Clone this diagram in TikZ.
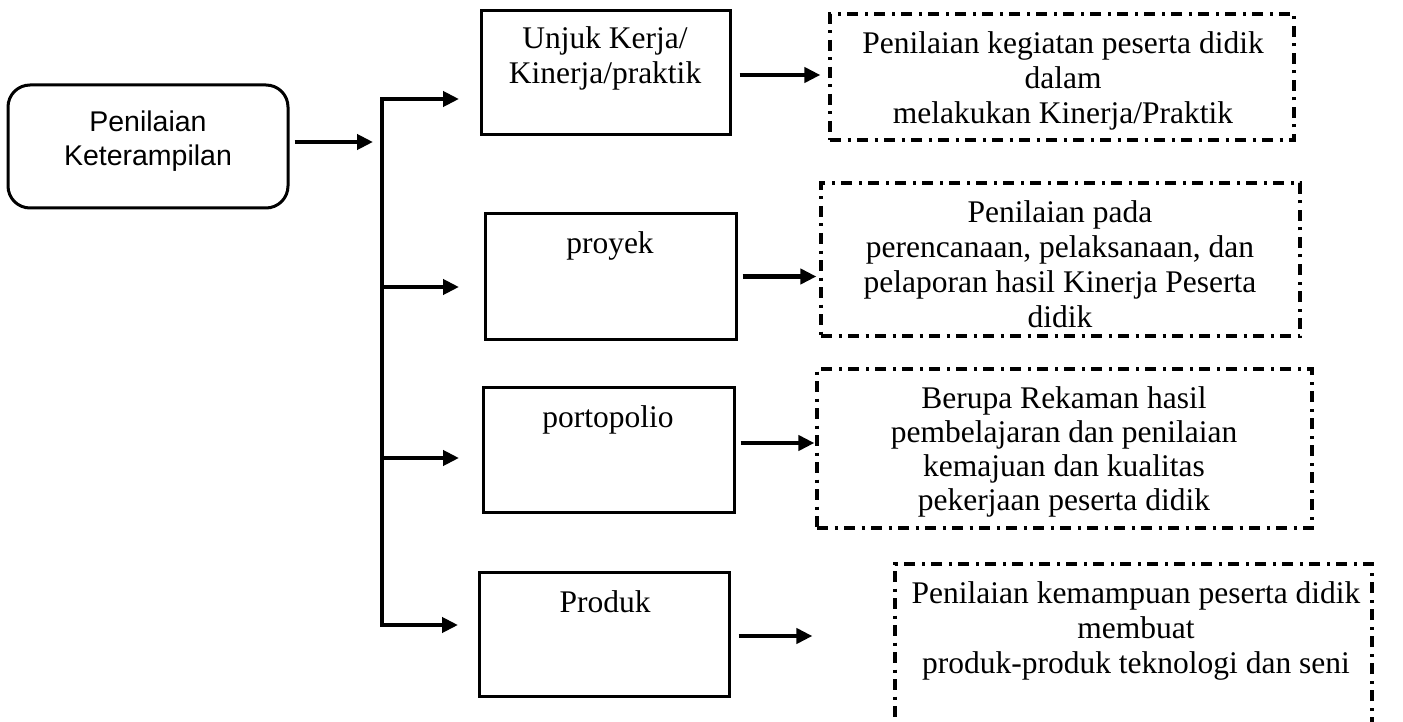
\documentclass[tikz,border=0pt]{standalone}
\usepackage{fontspec}
\usetikzlibrary{arrows.meta,calc}
\newfontfamily\serifx{Liberation Serif}
\newfontfamily\sansx{Liberation Sans}
\begin{document}
\begin{tikzpicture}[x=1pt,y=-1pt,
  boxshape/.style={draw=black,line width=3pt,rectangle,inner sep=0pt},
  roundbox/.style={draw=black,line width=3pt,rectangle,rounded corners=22pt,inner sep=0pt},
  dashbox/.style={draw=black,line width=3.2pt,rectangle,inner sep=0pt,
     dash pattern=on 11pt off 6.5pt on 3pt off 6.5pt},
  sertxt/.style={font=\serifx\fontsize{31.5}{35}\selectfont,align=center,inner sep=0pt},
  santxt/.style={font=\sansx\fontsize{28.5}{34}\selectfont,align=center,inner sep=0pt},
  conn/.style={line width=4.3pt},
  arr/.style={line width=4.3pt,-{Triangle[length=16pt,width=15pt]}},
  ]
\useasboundingbox (0,0) rectangle (1403,722);

% left rounded box
\node[roundbox,minimum width=280pt,minimum height=123pt] (lb) at (148,146.5) {};
\node[santxt] (lbt) at (148,141) {Penilaian\\Keterampilan};

% middle boxes
\node[boxshape,minimum width=249pt,minimum height=124pt] (b1) at (605.5,73) {};
\node[sertxt] (b1t) at (605,58.5) {Unjuk Kerja/\\Kinerja/praktik};
\node[boxshape,minimum width=251pt,minimum height=125pt] (b2) at (610.5,276.5) {};
\node[sertxt,anchor=base] (b2t) at (610,254) {proyek};
\node[boxshape,minimum width=251pt,minimum height=125pt] (b3) at (608.5,449.5) {};
\node[sertxt,anchor=base] (b3t) at (608,427) {portopolio};
\node[boxshape,minimum width=250pt,minimum height=124pt] (b4) at (604,634) {};
\node[sertxt,anchor=base] (b4t) at (605,612) {Produk};

% dashed boxes
\node[dashbox,minimum width=464pt,minimum height=126pt] (d1) at (1062,77) {};
\node[sertxt] (d1t) at (1063,81) {Penilaian kegiatan peserta didik\\dalam\\melakukan Kinerja/Praktik};
\node[dashbox,minimum width=479pt,minimum height=153pt] (d2) at (1060.5,259.5) {};
\node[sertxt] (d2t) at (1060,264) {Penilaian pada\\perencanaan, pelaksanaan, dan\\pelaporan hasil Kinerja Peserta\\didik};
\node[dashbox,minimum width=495pt,minimum height=159pt] (d3) at (1064.5,448.5) {};
\node[sertxt,font=\serifx\fontsize{31.5}{34}\selectfont] (d3t) at (1064,452) {Berupa Rekaman hasil\\pembelajaran dan penilaian\\kemajuan dan kualitas\\pekerjaan peserta didik};
\node[dashbox,minimum width=477pt,minimum height=200pt] (d4) at (1133.5,664) {};
\node[sertxt] (d4t) at (1136,631) {Penilaian kemampuan peserta didik\\membuat\\produk-produk teknologi dan seni};

% bracket
\coordinate (jn) at (382,142);
\coordinate (c1) at (382,99);
\coordinate (c2) at (382,287);
\coordinate (c3) at (382,458);
\coordinate (c4) at (382,625);
\coordinate (t1) at (459,99);
\coordinate (t2) at (459,287);
\coordinate (t3) at (459,458);
\coordinate (t4) at (458,625);

\draw[arr] ($(lb.east |- jn)+(5,0)$) -- ($(jn)+(-9,0)$);
\draw[conn,{Triangle[length=16pt,width=15pt]}-{Triangle[length=16pt,width=15pt]}] (t1) -- (c1) -- (c4) -- (t4);
\draw[arr] (c2) -- (t2);
\draw[arr] (c3) -- (t3);

% right arrows
\draw[arr] ($(b1.east)+(8,2)$) -- ($(d1.west |- b1.east)+(-8,2)$);
\draw[arr] ($(b2.east)+(5,0)$) -- ($(d2.west |- b2.east)+(-3,0)$);
\draw[arr] ($(b3.east)+(5,-6.5)$) -- ($(d3.west |- b3.east)+(-1,-6.5)$);
\draw[arr] ($(b4.east)+(8,2)$) -- ($(d4.west |- b4.east)+(-81,2)$);
\end{tikzpicture}
\end{document}
